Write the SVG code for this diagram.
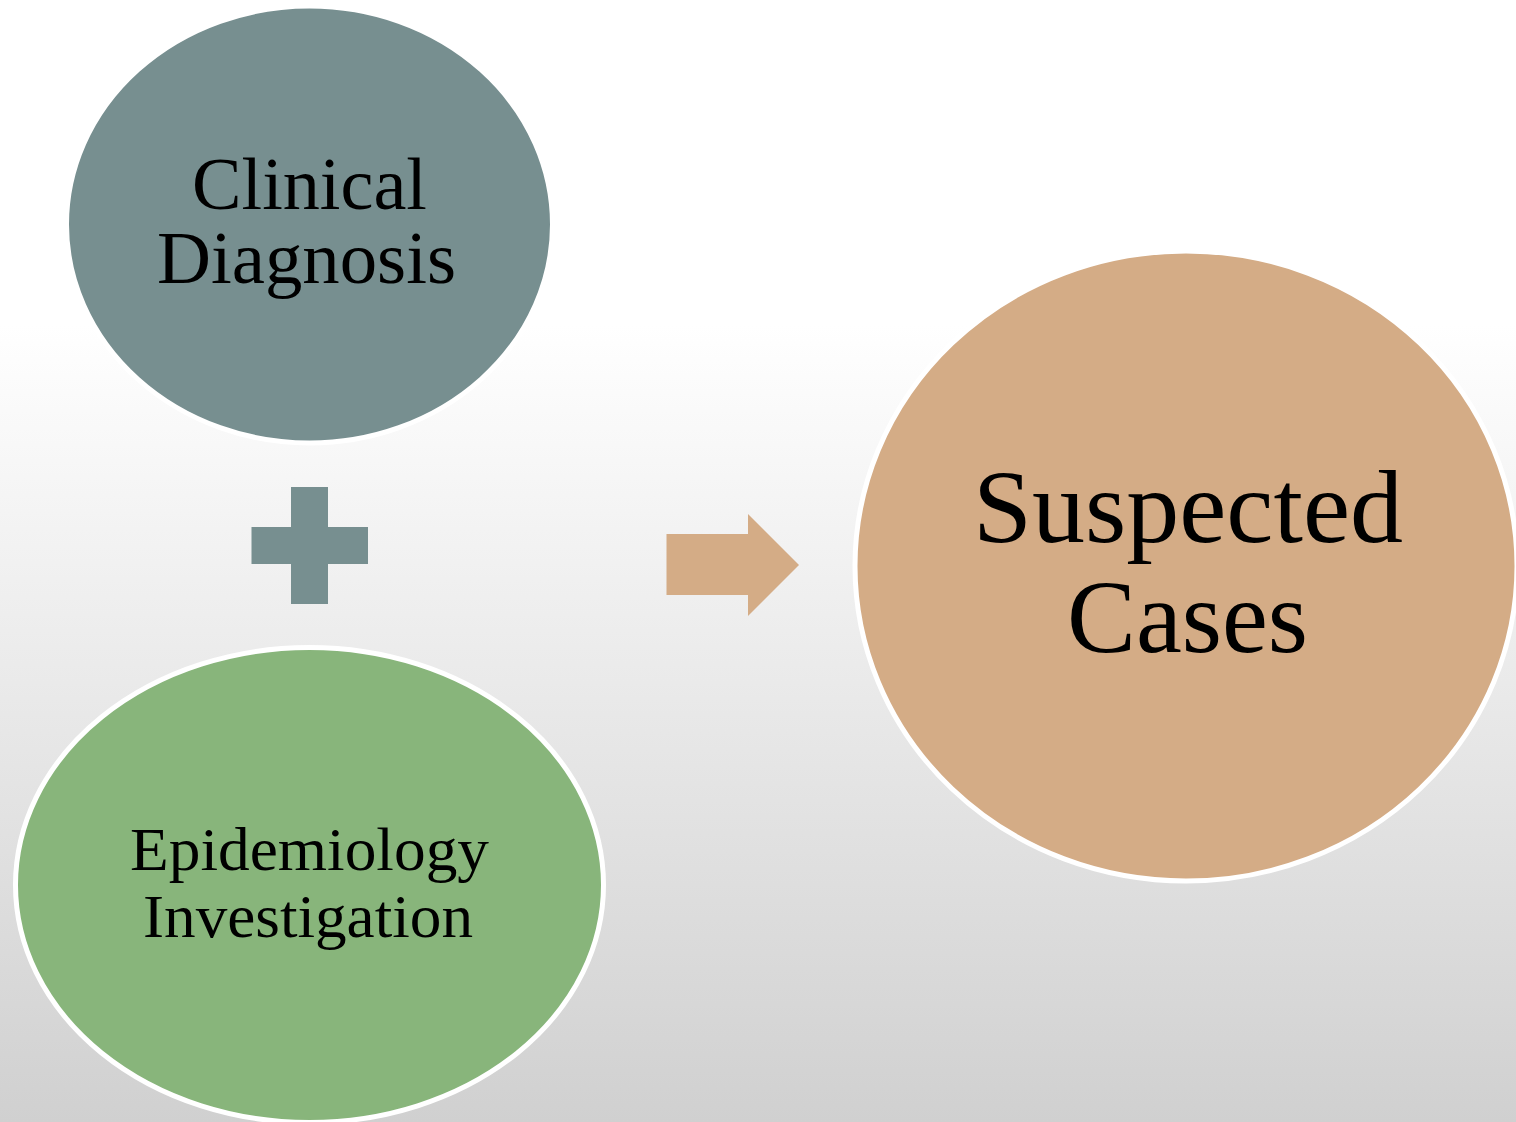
<svg xmlns="http://www.w3.org/2000/svg" width="1516" height="1122" viewBox="0 0 1516 1122">
<defs>
<linearGradient id="bg" x1="0" y1="0" x2="0" y2="1122" gradientUnits="userSpaceOnUse">
<stop offset="0" stop-color="#ffffff"/>
<stop offset="0.29" stop-color="#ffffff"/>
<stop offset="1" stop-color="#d0d0d0"/>
</linearGradient>
</defs>
<style>
.node{stroke:#ffffff;stroke-width:5}
.lbl{font-family:"Liberation Serif","Times New Roman",serif;fill:#000000;text-anchor:middle}
</style>
<rect x="0" y="0" width="1516" height="1122" fill="url(#bg)"/>
<g id="clinical">
<ellipse class="node" cx="309.5" cy="224.5" rx="243" ry="218.5" fill="#778f90"/>
<text class="lbl" x="309.5" y="209" font-size="74" textLength="235" lengthAdjust="spacingAndGlyphs">Clinical</text>
<text class="lbl" x="306.5" y="283" font-size="74" textLength="299" lengthAdjust="spacingAndGlyphs">Diagnosis</text>
</g>
<g id="plus">
<path d="M291,487 H328 V527 H368 V564 H328 V604 H291 V564 H251.5 V527 H291 Z" fill="#778f90"/>
</g>
<g id="epidemiology">
<ellipse class="node" cx="309.5" cy="885" rx="294" ry="237.5" fill="#88b57b"/>
<text class="lbl" x="309.5" y="870" font-size="62" textLength="359" lengthAdjust="spacingAndGlyphs">Epidemiology</text>
<text class="lbl" x="308" y="937" font-size="62" textLength="330" lengthAdjust="spacingAndGlyphs">Investigation</text>
</g>
<g id="connectors">
<path d="M666.5,534 H748 V514 L799,565 L748,616 V595 H666.5 Z" fill="#d4ac86"/>
</g>
<g id="suspected">
<ellipse class="node" cx="1186" cy="566" rx="331" ry="315" fill="#d4ac86"/>
<text class="lbl" x="1188" y="542" font-size="104" textLength="430" lengthAdjust="spacingAndGlyphs">Suspected</text>
<text class="lbl" x="1187.5" y="652" font-size="104" textLength="241" lengthAdjust="spacingAndGlyphs">Cases</text>
</g>
</svg>
